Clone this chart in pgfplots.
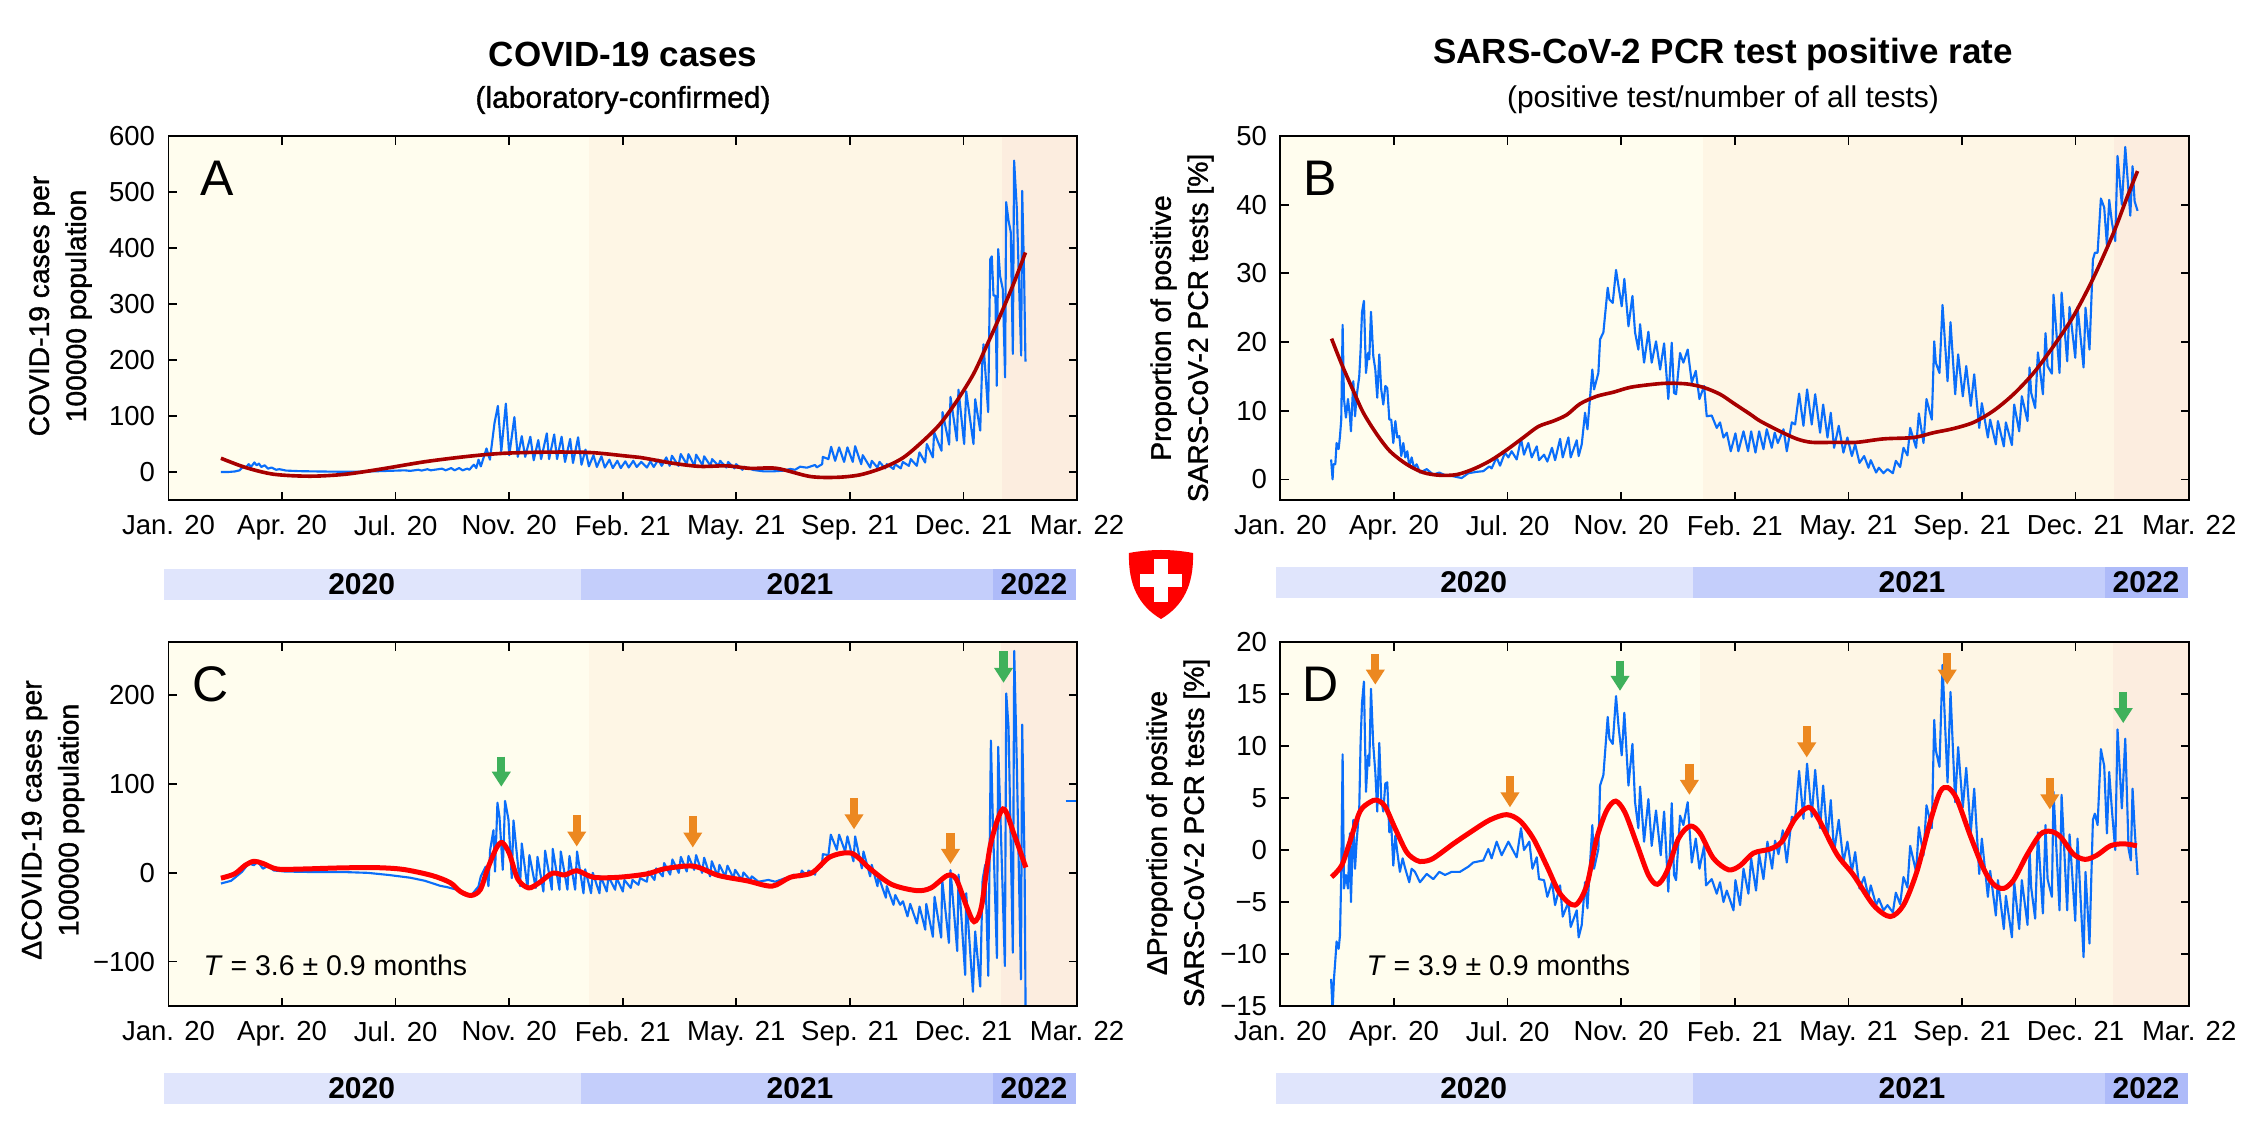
\documentclass[border=0pt]{standalone}
\usepackage{fontspec}
\usepackage{pgfplots}
\pgfplotsset{compat=1.18}
\usetikzlibrary{arrows.meta}
\setmainfont{Liberation Sans}
\newfontfamily\medfont{Liberation Sans}[FakeBold=1.2]

\definecolor{bgone}{HTML}{FFFDEE}
\definecolor{bgtwo}{HTML}{FEF6E5}
\definecolor{bgthree}{HTML}{FCEDDF}
\definecolor{yearone}{HTML}{E0E5FC}
\definecolor{yeartwo}{HTML}{C4CEFB}
\definecolor{yearthree}{HTML}{AEBBF9}
\definecolor{rawblue}{HTML}{0A6EFA}
\definecolor{trenddark}{HTML}{A80000}
\definecolor{trendred}{HTML}{FF0000}
\definecolor{arroworange}{HTML}{EC8820}
\definecolor{arrowgreen}{HTML}{3FB15B}

\pgfplotsset{
  panel/.style={
    anchor=south west, scale only axis, height=145.6pt, no markers,
    axis on top, tick align=inside, tick pos=both, major tick length=3.4pt,
    axis line style={line width=0.75pt}, every tick/.style={black,line width=0.7pt},
    tick label style={font=\fontsize{11}{13}\selectfont,inner sep=0pt},
    xticklabel shift=6pt, yticklabel shift=5.2pt,
    xticklabels={Jan. 20,Apr. 20,Jul. 20,Nov. 20,Feb. 21,May. 21,Sep. 21,Dec. 21,Mar. 22},
  },
  leftcol/.style={panel, width=363.4pt, xmin=-0.5, xmax=798,
    xtick={-0.5,99.3,199.1,298.9,398.7,498.6,598.4,698.2,798}},
  rightcol/.style={panel, width=363.5pt, xmin=-0.5, xmax=797.2,
    xtick={-0.5,99.2,198.9,298.6,398.3,498.1,597.8,697.5,797.2}},
  bg/.style={fill=#1,draw=none,forget plot},
  raw/.style={rawblue,line width=0.85pt,line join=round},
  arrowup/.style={-{Triangle[width=7.2pt,length=6pt]},line width=3.3pt,
    quiver={u=0,v=\thisrow{v}}},
}

\newcommand{\yearstrip}[2]{%
  \begin{axis}[at={(#1,#2)},anchor=south west,scale only axis,width=364.8pt,height=12.3pt,
    hide axis,xmin=-4,xmax=799,ymin=0,ymax=1]
    \addplot[bg=yearone] coordinates {(-4,0)(363,0)(363,1)(-4,1)} -- cycle;
    \addplot[bg=yeartwo] coordinates {(363,0)(726,0)(726,1)(363,1)} -- cycle;
    \addplot[bg=yearthree] coordinates {(726,0)(799,0)(799,1)(726,1)} -- cycle;
    \node[font=\fontsize{12}{14}\selectfont\bfseries] at (axis cs:170,0.5) {2020};
    \node[font=\fontsize{12}{14}\selectfont\bfseries] at (axis cs:556,0.5) {2021};
    \node[font=\fontsize{12}{14}\selectfont\bfseries] at (axis cs:762,0.5) {2022};
  \end{axis}}

\begin{document}
\begin{tikzpicture}
\path[use as bounding box] (0,0) rectangle (901.6pt,458.8pt);

% A: cases
\begin{axis}[leftcol, at={(67.4pt,258.8pt)}, ymin=-50, ymax=600,
  ytick={0,100,200,300,400,500,600}, yticklabels={0,100,200,300,400,500,600}]
  \addplot[bg=bgone] coordinates {(-0.5,-50)(369.5,-50)(369.5,600)(-0.5,600)} -- cycle;
  \addplot[bg=bgtwo] coordinates {(369.5,-50)(732,-50)(732,600)(369.5,600)} -- cycle;
  \addplot[bg=bgthree] coordinates {(732,-50)(798,-50)(798,600)(732,600)} -- cycle;
  \addplot[raw] coordinates {
  (45.6,0)(52,0)(58,1)(62,3)(65,9)(67,7)(70,14)(72,9)(75,17)(77,12)(79,15)(81,9)(84,12)(87,6)(90,8)(94,4)(97,5)(103,2.5)
  (115,1.5)(130,1)(150,.5)(170,.5)(185,1.5)(200,2.5)(207,3)(212,2)(219,4)(222,2.5)(227,5)(230,3)(240,6)(243,3)(248,7)(251,3)(255,7)(258,3)(262,6)(264,4)
  (266,9)(268,13)(270,7)(272,22)(274,10)(279,42)(282,22)(286,87)(289,118)(292,37)(296,122)(299,30)(303.5,98)(306.5,27)(310,64)(313,27)(317.5,63)(320.5,21)
  (324.5,57)(327,23)(332,69)(334,23)(338.5,67)(341,23)(345,63)(348,18)(352.5,59)(355,16)(359.5,62)(362.5,13)(366,40)(369,10)(373,30)(376,9)(380,28)(383,8)
  (387,22)(390,7)(394,20)(397,7)(401,19)(404,8)(408,20)(411,9)(415,18)(420,8)(423,19)(426,9)(430,22)(433,11)(437,26)(440,11)(442,29)(447.7,11)(449.7,32)
  (455,14)(456.5,32)(461.8,11)(463.2,31)(468.8,12.5)(470.3,28)(475.8,11)(477.3,23)(482.9,11)(484.3,20)(489.9,8)(491.4,18)(496.9,6.5)(498.4,14)(504,4)(505.4,9.5)
  (513.6,3.6)(522.4,1.2)(531.2,1.2)(540,2.4)(545.9,5.4)(550.2,4)(554.6,9.5)(560.5,7.7)(567.8,12.5)(569.3,8.3)(574,14)(574.6,27)(579.5,23)(581.9,45)(585.4,20)
  (588.9,44)(593.3,18)(596.2,44)(600.9,18)(603,46)(608.3,14)(609.7,30)(616.2,8)(617.6,20)(622.6,8)(624.4,18)(629.4,6.5)(630.8,14)(636.7,5.4)(638.1,14)(643.1,6.5)
  (644.9,18)(650.2,11)(651.9,23)(657.2,11)(659.5,35)(664.5,17)(666,50)(671.3,26)(672.4,71)(678.9,38)(679.8,107)(685.6,49)(686.8,134)(692.4,56)(693.8,147)
  (698.8,50)(700.6,144)(707,50)(708.5,130)(712.9,74)(714.6,190)(715.8,228)(719.9,107)(721.7,380)(723.1,385)(724.6,315)(726.3,315)(727.5,154)(728.7,398)
  (730.4,350)(732.8,326)(734.8,169)(735.7,482)(737.8,449)(739.8,428)(741.6,211)(742.7,556)(745.1,470)(748.9,208)(749.8,502)(751.5,350)(752.7,197)};
  \addplot[trenddark,line width=1.45pt,smooth] coordinates {
  (45.6,24.6)(67,8.2)(92,-4)(124,-7.5)(155,-4)(187,5.5)(225,18.4)(263,28)(294,33.4)(332,35.5)(370,34.8)(401,28.7)(414,26)(443.3,15.5)(466.7,10)(490.2,11)
  (510.7,6.5)(534.1,6.5)(563.4,-8)(586.9,-9.5)(607.4,-5)(627.9,8)(645.5,26)(663,56)(677.7,86)(692.4,127)(707,175)(718.7,226)(730.4,279)(742.2,336)(752.7,392)};
\end{axis}

% B: positive rate
\begin{axis}[rightcol, at={(512.16pt,258.8pt)}, ymin=-3, ymax=50,
  ytick={0,10,20,30,40,50}, yticklabels={0,10,20,30,40,50}]
  \addplot[bg=bgone] coordinates {(-0.5,-3)(370,-3)(370,50)(-0.5,50)} -- cycle;
  \addplot[bg=bgtwo] coordinates {(370,-3)(731,-3)(731,50)(370,50)} -- cycle;
  \addplot[bg=bgthree] coordinates {(731,-3)(797.2,-3)(797.2,50)(731,50)} -- cycle;
  \addplot[raw] coordinates {
  (44,2.9)(45.3,0)(46,2.2)(47.7,2.2)(48.8,5.3)(50.6,4.4)(51.8,6.3)(52.9,8.7)(54.1,22.5)(55.3,11.7)(57,9)(58.8,11.7)(60.5,9.2)(61.4,7)(63.5,14.3)(65,9.2)(66.4,12.1)
  (68.7,15)(69.9,18.9)(71.1,24.3)(72.8,26)(74.6,15.5)(76.4,18.4)(77.5,17.5)(79,24.4)(81,18)(82.8,16)(84.5,11.9)(86.3,18.2)(88,13.1)(89.8,10.9)(91.6,13.6)(93.3,13.3)
  (95.1,8.7)(96.8,8.7)(98.6,5.3)(100.4,8.5)(102.1,6.1)(103.9,6.3)(105.6,3.4)(107.4,5.3)(109.1,3.2)(110.9,4.1)(112.6,1.9)(114.7,3.2)(116.7,1.7)(119.1,2.2)(122,1)
  (127.9,1.5)(133.7,.7)(139,1)(144,.6)(149.8,.5)(158.6,.2)(164.5,.9)(171.8,1.1)(177.6,1.2)(182.9,1.9)(184.9,1.6)(189.3,3.2)(192.3,2)(196.6,3.9)(199.6,3.2)(202.5,4.1)
  (206.9,2.9)(210.7,5.9)(213.3,3.6)(217.1,5.3)(220.1,3.2)(224.5,4.8)(226.5,2.8)(230.9,3.6)(233.8,2.6)(237.9,4.6)(240.6,2.8)(245,5.9)(247.3,3.2)(252.3,6.1)(254.3,3.2)
  (259.6,5.7)(261.3,3.4)(264,5.1)(266.9,9.7)(269,7.3)(273.3,16)(274.8,13.1)(278.6,15.5)(280.1,20.4)(283,21.4)(286.8,27.9)(288.3,26.2)(291.2,25.7)(294.1,30.5)(296.2,28.2)
  (299.1,25.2)(301.4,29.2)(305,22.3)(308.5,26.7)(310.8,21.4)(313.7,18.9)(315.2,22.6)(318.7,17)(322.5,21.5)(325.4,17)(329.2,20.1)(332.8,16)(336.3,19.8)(340,11.7)(343,19.9)
  (345,12.6)(346.8,12.4)(350.3,18.4)(353.2,17)(357,18.9)(360.6,14.1)(364.1,15.8)(367.3,11.7)(371.4,13.6)(373.7,9.2)(378.1,9.3)(382.5,7.5)(385.4,8.3)(388.4,6.1)(391.3,6.8)
  (394.8,4.1)(398.9,6.7)(401.5,4.1)(406,7)(410,4.1)(412.7,7)(416.5,3.9)(419.7,7)(423.5,4.4)(426.4,7.3)(430.8,4.6)(433.4,6.8)(436.1,5.3)(441.1,7.3)(444,4.1)(448.4,8.3)
  (451.3,8)(454.8,12.5)(458.6,7.8)(461.8,13.1)(465.9,8)(468.9,12.4)(473.2,6.8)(475.9,10.9)(479.7,6.1)(482.6,9.7)(485.5,4.6)(489.6,7.8)(493.7,3.9)(497.2,6.1)(501.1,3.4)
  (504,5.1)(507.8,2.4)(511.9,3.4)(515.7,1.7)(517.7,2.8)(522.4,1)(524.8,1.7)(528.9,.9)(532.4,1.5)(537.1,.9)(539.7,2.7)(543.5,1.8)(546.4,4.6)(549.9,3.5)(552.3,7.5)(557.5,4.6)
  (559.9,9.6)(564,5.3)(566.6,11.7)(571.3,8.7)(573.4,20.1)(574.8,17)(578,15.5)(580.7,25.4)(585.1,14.3)(587.7,22.9)(591.8,12.4)(594.4,18.2)(598.5,12.1)(601.5,16.5)(605.5,10.7)
  (608.5,15.3)(612.9,7.5)(615.2,11.1)(620.5,6.1)(622.5,8.7)(627.5,5.1)(629.3,8.5)(634.5,4.8)(636.3,8.3)(641.6,5)(643.6,10.9)(648,7)(650.3,12.1)(655.3,8.5)(657.1,16.3)(658.5,12.6)
  (662,10.4)(664.4,18.5)(668.8,12.4)(671.1,21.3)(672.9,16.5)(676.7,15.4)(678.1,26.9)(683.4,15.5)(685.2,27.2)(690.1,17.2)(692.2,25.1)(697.2,17.7)(699.2,25.1)(704.5,16.3)(706.2,25)
  (709.7,18.9)(712.7,32)(714.4,33)(716.8,33)(719.7,40.9)(722.6,39.6)(725,34.1)(727,40.7)(729.4,37.4)(732.3,34.7)(734.3,47.1)(738.1,40)(741.1,48.4)(745.5,38.4)(747.5,45.6)
  (749.3,40.5)(751.9,39.1)};
  \addplot[trenddark,line width=1.45pt,smooth] coordinates {
  (44.4,20.5)(53.2,16.8)(63.5,12.9)(72.3,9.7)(84,6.6)(95.7,4.1)(110.3,2.2)(124.9,1)(139.6,.6)(154.2,.7)(168.8,1.5)(183.5,2.7)(198.1,4.3)(212.8,6.1)(225.9,7.7)(239.1,8.5)
  (250.8,9.4)(262.5,11)(277.1,12.1)(291.8,12.7)(306.4,13.4)(324,13.8)(338.6,14)(356.2,13.9)(370.8,13.4)(385.4,12.4)(397.2,11.1)(411.8,9.5)(420.6,8.5)(438.1,7)(452.8,5.9)
  (465.9,5.4)(487.9,5.4)(505.4,5.4)(528.9,5.9)(555.2,6.1)(572.8,6.8)(590.3,7.4)(607.9,8.3)(625.5,10)(643,12.4)(660.6,15.5)(678.1,19.4)(695.7,23.8)(713.3,29.4)(730.8,35.9)
  (742.5,41)(751.9,44.9)};
\end{axis}

% C: change in cases
\begin{axis}[leftcol, at={(67.4pt,56.4pt)}, ymin=-150, ymax=260,
  ytick={-100,0,100,200}, yticklabels={−100,0,100,200}]
  \addplot[bg=bgone] coordinates {(-0.5,-150)(369.5,-150)(369.5,260)(-0.5,260)} -- cycle;
  \addplot[bg=bgtwo] coordinates {(369.5,-150)(731.5,-150)(731.5,260)(369.5,260)} -- cycle;
  \addplot[bg=bgthree] coordinates {(731.5,-150)(798,-150)(798,260)(731.5,260)} -- cycle;
  \addplot[raw] coordinates {
  (45.6,-12)(54.5,-9)(64,1)(70,10.6)(74.5,8.6)(78,12.5)(82.5,4.7)(87,7.8)(92,2.7)(101.5,1.5)(130,.8)(155.5,.8)(174.5,0)(193,-2.4)(212,-5.5)(225,-9)(238.2,-14.6)(244,-16)
  (252.9,-19)(258.7,-24.7)(266,-24.7)(271.9,-15.4)(274,-4)(278.3,7)(280.7,-15)(282.2,25.8)(285.1,48)(286.5,1.5)(288.6,79)(290.4,63)(293.3,3.4)(295.3,81)(298.3,60)(301.2,-6)
  (302.7,59)(308.5,-15)(310,33)(315,-17)(316.7,20)(322.3,-17)(323.8,18)(329,-21)(330.5,25)(336.4,-19)(337.2,27)(343.1,-19)(344.3,24)(350.1,-19)(351.9,19)(356.9,-19)(358.6,24)
  (364.2,-23)(365.7,4)(370.9,-23)(372.4,0)(378.3,-23)(379.4,-4)(384.7,-21)(386.2,-4)(392,-19)(393.5,-6)(398.8,-21)(400.2,-8)(405.8,-17)(407.3,-8)(412.5,-13.5)(414,-6)(419.9,-10)
  (421.3,1.5)(426.6,-8)(428.1,5)(433.9,-4)(435.1,11)(440.4,-2)(442.4,15)(448,0)(449.8,18)(455,1.5)(456.5,19)(461.5,3.4)(463.2,20)(468.5,0)(470.3,17)(475.5,-4)(477,13)(482.3,-4)
  (483.7,9)(488.7,-4)(490.8,8)(496,-6)(497.5,3.4)(503.4,-8)(504.8,.4)(510.7,-8)(512.2,-4)(518,-10)(526.8,-8)(532.7,-10)(541.5,-6)(547.3,-6)(548.8,-2)(554.6,-5)(556.1,2.6)
  (560.5,-3.4)(562,2.6)(567.8,-2)(568.7,5)(573.7,7)(574.6,21)(579.5,20)(581.6,43)(586.9,26)(588.9,43)(594.2,24)(596.2,41)(601.5,13)(603,41)(608.9,5)(610.3,24)(616.2,-4)(617.6,9)
  (622.6,-15)(623.5,-4)(630,-28)(630.8,-15)(636.7,-36)(638.2,-25)(642.6,-36)(645,-32)(649,-49)(651.4,-35)(657.3,-57)(659.6,-38)(664.6,-64)(665.5,-35)(671.3,-72)(672.8,-27)
  (678.6,-73)(679.5,-8)(685.4,-79)(686.8,3)(692.7,-88)(693.9,-2)(699.7,-115)(700.6,-23)(706.5,-134)(708.5,-66)(712.9,-128)(715,-8)(717.3,9)(720,-116)(722.3,149)(724,60)
  (727.6,-96)(728.7,142)(730.5,71)(734.6,-105)(735.8,202)(737.8,164)(741.6,-90)(742.8,250)(745.2,116)(748.7,-120)(749.8,167)(751.9,11)(752.8,-155)};
  \addplot[raw] coordinates {(788,81)(798,81)};
  \addplot[trendred,line width=2pt,smooth] coordinates {
  (45.6,-6)(57.5,-1.2)(67,8.6)(74.5,13)(82.5,10.6)(95,4.3)(117,4.3)(149,5.5)(180.5,5.9)(205.5,3.9)(231,-3)(247,-11)(256,-21)(265.5,-25.5)(273.5,-19)(280,4.7)(287.7,28)(292.8,34)
  (299,22)(306.5,-7)(316,-17)(325.5,-11)(337,-.4)(347.5,-2.4)(358.5,2.4)(373,-5)(395,-5)(420,-1.2)(436,4.7)(461,7.5)(483,-3)(508,-9)(530,-15)(546,-5)(565,0)(581,18)(600,22)
  (616,4.7)(635,-13)(657,-20)(669.6,-17)(684,-3)(691.8,-7)(701,-38)(707.6,-55)(714,-38)(722,32)(733,72)(742.5,44)(753,6)};
  \addplot[arrowup,arrowgreen] table[row sep=\\] {x y v\\ 292 131 -34\\ 733.4 249.4 -35.4\\};
  \addplot[arrowup,arroworange] table[row sep=\\] {x y v\\ 358.3 65 -35.4\\ 460.3 64 -35.5\\ 602 84 -35\\ 686.8 45 -35\\};
\end{axis}

% D: change in positive rate
\begin{axis}[rightcol, at={(512.16pt,56.4pt)}, ymin=-15, ymax=20,
  ytick={-15,-10,-5,0,5,10,15,20}, yticklabels={−15,−10,−5,0,5,10,15,20}]
  \addplot[bg=bgone] coordinates {(-0.5,-15)(368,-15)(368,20)(-0.5,20)} -- cycle;
  \addplot[bg=bgtwo] coordinates {(368,-15)(730,-15)(730,20)(368,20)} -- cycle;
  \addplot[bg=bgthree] coordinates {(730,-15)(797.2,-15)(797.2,20)(730,20)} -- cycle;
  \addplot[raw] coordinates {
  (44,-12.4)(45.3,-15.5)(46.5,-12.4)(47.7,-10.6)(48.8,-8.8)(50.6,-9.5)(51.8,-8.2)(52.9,-2.4)(54.1,9.2)(55.3,-3.7)(57,-2.4)(58.8,-3.7)(60.5,1.6)(61.4,-5)(63.5,2.9)(65,-1.8)(66.4,.8)
  (68.7,4)(69.9,10.4)(71.1,14.1)(72.8,16.2)(74.6,5.6)(76.4,9.1)(77.5,8.1)(79,15.5)(81,10.1)(82.8,7.5)(84.5,3.7)(86.3,10.3)(88,4.9)(89.8,3.7)(91.6,6.4)(93.3,6.5)(95.1,1.7)(96.8,2.4)
  (98.6,-1.5)(100.4,1.4)(102.1,-.2)(104.4,-2.1)(106.8,-.8)(109.1,-1.8)(112.6,-3.1)(114.7,-1.8)(117.6,-2.1)(122,-3.1)(127.9,-2.3)(133.7,-2.8)(139,-2.1)(144,-2.4)(149.8,-2.1)(157.1,-2.1)
  (164.5,-1.6)(168.8,-1.2)(177.6,-1)(182,.1)(184.9,-.8)(189.3,.8)(193.7,-.5)(199.6,.8)(206.9,-.7)(210.7,2.1)(213.3,0)(218,.8)(220.7,-1.8)(224.5,-.7)(226.5,-2.8)(230.9,-2.9)(233.8,-4.5)
  (237.9,-3.1)(240.6,-5.3)(245,-3.4)(247.3,-6.4)(252.3,-5)(254.3,-7.4)(259.6,-5.8)(261.3,-8.4)(264,-7.2)(266.9,-3.1)(269,-5.6)(273.3,2.4)(274.8,-1.8)(278.6,.1)(280.1,6.2)(283,7.2)
  (286.8,12.8)(288.3,10.7)(291.2,10.2)(294.1,14.8)(296.2,12)(299.1,9.1)(301.4,13.2)(305,6.2)(308.5,10.2)(310.8,4.6)(313.7,2.1)(315.2,6.1)(318.7,.8)(322.5,4.9)(325.4,.4)(329.2,3.8)
  (333.3,-.5)(336.3,3.7)(340,-4)(343,4.5)(345,-2.4)(346.8,-2.9)(350.3,3.3)(353.2,2.4)(357,4.6)(360.6,-1.2)(364.1,1.1)(367.3,-1.8)(371.4,.4)(373.1,-3.4)(378.1,-2.8)(382.5,-4.2)(385.4,-3.1)
  (388.4,-5)(391.3,-3.9)(397.2,-5.8)(398.9,-2.9)(403,-5.3)(406,-1.8)(410.3,-4.2)(412.7,-.8)(417,-3.9)(419.7,-.4)(423.5,-2.8)(427,.8)(431.1,-1.8)(433.7,.9)(436.7,-.4)(440.5,1.9)(444,-1.2)
  (448.4,3.2)(451.3,3)(454.8,7.6)(458.6,3)(461.8,8.3)(465.9,3.2)(468.9,7.7)(473.2,2.1)(475.9,6.2)(479.7,1.1)(482.6,4.8)(485.5,-.2)(489.6,2.9)(493.7,-1.2)(497.2,.8)(501.1,-2.1)(504,-.2)
  (507.8,-3.7)(511.9,-2.6)(515.7,-4.5)(517.7,-3.4)(522.4,-5.3)(524.8,-4.7)(528.9,-5.8)(532.4,-5.3)(537.1,-6)(539.7,-4.1)(543.5,-5.2)(546.4,-2.6)(549.9,-3.6)(552.3,.4)(557.5,-2.1)(559.9,2.2)
  (564,-.5)(566.6,4.3)(571.3,2.1)(573.4,12.5)(574.8,9.6)(578,8)(580.7,17.8)(585.1,6.5)(587.7,15.2)(591.8,4.6)(594.4,9.9)(598.5,4.1)(601.5,7.9)(605.5,1.7)(608.5,5.9)(612.9,-2.3)(615.2,1.1)
  (620.5,-4.5)(622.5,-2)(627.5,-6.3)(629.3,-2.9)(634.5,-7.6)(636.3,-4.4)(641.6,-8.4)(643.6,-3.1)(648,-7.6)(650.3,-2.9)(655.3,-7.2)(657.1,0)(658.5,-3.6)(662,-6.6)(664.4,1.7)(668.8,-6.1)
  (671.1,2.4)(672.9,-2.8)(676.7,-4.5)(678.1,5.6)(683.4,-5.8)(685.2,5.3)(690.1,-5.8)(692.2,1.5)(697.2,-6.8)(699.2,1.1)(704.5,-10.3)(706.2,-2.1)(709.7,-9)(712.7,2.9)(714.4,3.5)(716.8,2.4)
  (719.7,9.7)(722.6,8.1)(725,1.6)(727,7.5)(729.4,3.8)(732.3,0)(734.3,11.6)(738.1,4)(741.1,10.7)(744,.1)(746,-1)(747.5,5.9)(749.3,2.1)(751.9,-2.4)};
  \addplot[trendred,line width=2pt,smooth] coordinates {
  (44.4,-2.6)(53.2,-1.5)(60.5,.8)(69.3,3.7)(78.1,4.6)(84,4.8)(91.3,4.2)(100.1,2.1)(110.3,-.2)(119.1,-1)(124.9,-1.1)(133.7,-.8)(151.3,.6)(168.8,1.9)(183.5,2.9)(198.1,3.4)(209.8,2.8)
  (221.5,1.1)(233.2,-1.5)(245,-4.2)(258.1,-5.3)(268.4,-3.4)(277.1,1.1)(285.9,3.8)(293.8,4.7)(302,3.6)(312.3,.6)(322.5,-2.4)(330.4,-3.3)(338.6,-2.1)(348.9,1.1)(359.1,2.3)(367.9,1.6)
  (379.6,-.8)(392.8,-1.9)(403,-1.5)(414.7,-.3)(429.3,.1)(439.6,.8)(451.3,3)(463,4.1)(471.8,3)(487.9,-.4)(502.5,-2.4)(520.1,-5.3)(534.7,-6.4)(546.4,-5.3)(558.1,-2.1)(569.8,2.7)(578.6,5.6)
  (585.4,6)(593.3,4.9)(605,1.4)(616.7,-1.8)(625.5,-3.3)(634.2,-3.7)(643,-2.9)(654.7,-.5)(666.4,1.5)(675.2,1.8)(684,1.3)(695.7,-.4)(705.9,-.9)(716.2,-.5)(727.9,.4)(739.6,.6)(751.3,.4)};
  \addplot[arrowup,arrowgreen] table[row sep=\\] {x y v\\ 297.6 18.2 -2.9\\ 739.3 15.2 -3\\};
  \addplot[arrowup,arroworange] table[row sep=\\] {x y v\\ 82.8 18.8 -2.9\\ 201 7.1 -3\\ 358.5 8.3 -3\\ 461.5 11.9 -3\\ 584.8 18.9 -3\\ 674.9 6.9 -3\\};
\end{axis}

\yearstrip{65.6pt}{218.8pt}
\yearstrip{510.4pt}{219.6pt}
\yearstrip{65.6pt}{17.2pt}
\yearstrip{510.4pt}{17.2pt}

% titles, labels and the shield are placed in image pixels, y down from the top
\begin{scope}[shift={(0,458.8pt)},x=0.4pt,y=-0.4pt,every node/.style={inner sep=0pt}]
  \node[font=\fontsize{14}{16}\selectfont\bfseries] at (623,54) {COVID-19 cases};
  \node[font=\fontsize{12}{14}\medfont] at (623,100) {(laboratory-confirmed)};
  \node[font=\fontsize{14}{16}\selectfont\bfseries] at (1723,54) {SARS-CoV-2 PCR test positive rate};
  \node[font=\fontsize{12}{14}\selectfont] at (1723,100) {(positive test/number of all tests)};

  \node[font=\fontsize{20}{22}\selectfont] at (217,178) {A};
  \node[font=\fontsize{20}{22}\selectfont] at (1320,178) {B};
  \node[font=\fontsize{20}{22}\selectfont] at (211,684) {C};
  \node[font=\fontsize{20}{22}\selectfont] at (1321,684) {D};

  \node[rotate=90,align=center,font=\fontsize{11.3}{14.8}\medfont] at (60.5,306) {COVID-19 cases per\\100000 population};
  \node[rotate=90,align=center,font=\fontsize{11.3}{14.8}\medfont] at (1182,328) {Proportion of positive\\SARS-CoV-2 PCR tests [\%]};
  \node[rotate=90,align=center,font=\fontsize{11.3}{14.8}\medfont] at (53,820) {ΔCOVID-19 cases per\\100000 population};
  \node[rotate=90,align=center,font=\fontsize{11.3}{14.8}\medfont] at (1178,833) {ΔProportion of positive\\SARS-CoV-2 PCR tests [\%]};

  \node[anchor=west,font=\fontsize{11.4}{13}\selectfont] at (203,965) {\textit{T} = 3.6 ± 0.9 months};
  \node[anchor=west,font=\fontsize{11.4}{13}\selectfont] at (1366,965) {\textit{T} = 3.9 ± 0.9 months};

  \fill[red] (1129,553) .. controls (1150,549) and (1172,549) .. (1193,553)
    .. controls (1194,585) and (1183,606) .. (1161,619)
    .. controls (1139,606) and (1128,585) .. (1129,553) -- cycle;
  \fill[white] (1154.3,559) rectangle (1167.7,601.7);
  \fill[white] (1140,573.7) rectangle (1182.3,587);
\end{scope}
\end{tikzpicture}
\end{document}
